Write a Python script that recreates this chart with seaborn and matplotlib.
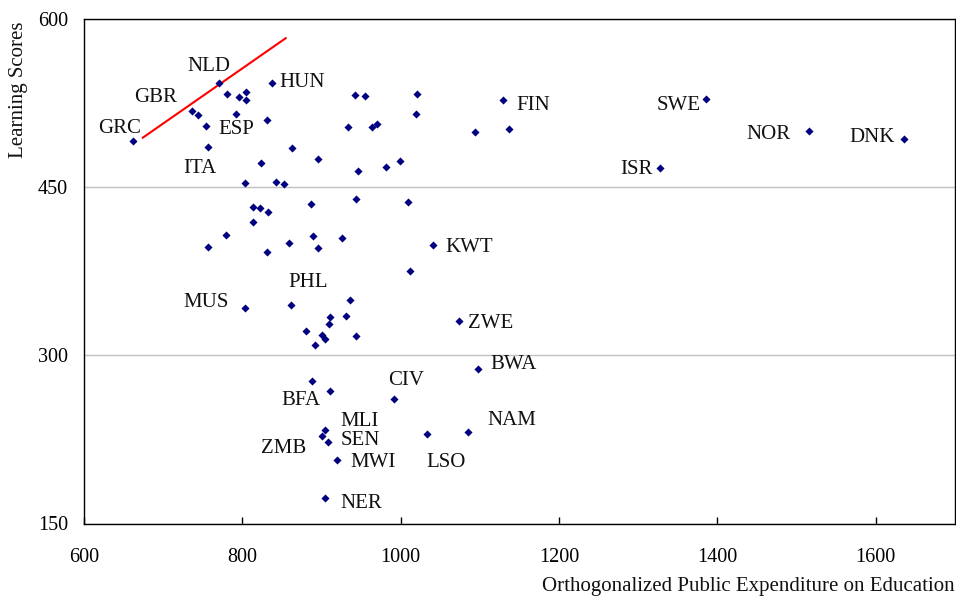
import matplotlib
matplotlib.use("Agg")
import matplotlib.pyplot as plt
import seaborn as sns
import pandas as pd

# ---- data ----
country = ["GRC", "NLD", "", "", "", "", "HUN", "GBR", "", "", "ESP", "",
           "", "", "", "", "", "ITA", "", "", "", "", "", "", "", "", "",
           "", "", "", "", "", "", "", "", "", "", "", "", "", "", "KWT",
           "", "MUS", "PHL", "", "", "", "", "", "", "", "", "", "ZWE",
           "BFA", "", "CIV", "BWA", "MLI", "ZMB", "SEN", "MWI", "LSO", "NAM",
           "NER", "", "", "", "FIN", "", "SWE", "NOR", "DNK", "ISR"]
expenditure = [662, 770, 780, 796, 805, 805, 838, 737, 744, 792, 754, 831,
               942, 955, 933, 964, 970, 756, 863, 824, 896, 946, 803, 843,
               853, 944, 813, 822, 833, 887, 982, 999, 1009, 813, 779, 756,
               831, 859, 889, 896, 926, 1041, 1012, 803, 861, 936, 931, 911,
               909, 880, 901, 904, 943, 892, 1073, 888, 911, 991, 1098, 904,
               901, 908, 920, 1033, 1085, 904, 1020, 1019, 1094, 1129, 1137,
               1386, 1515, 1635, 1328]
scores = [491, 543, 533, 530, 535, 528, 543, 518, 514, 515, 505, 510,
          532, 531, 504, 504, 506, 486, 485, 472, 475, 464, 454, 455,
          453, 439, 432, 431, 428, 435, 468, 473, 437, 419, 407, 397,
          392, 400, 406, 396, 405, 398, 375, 342, 345, 349, 335, 334,
          328, 322, 318, 315, 317, 309, 331, 277, 268, 261, 288, 233,
          228, 223, 207, 230, 232, 173, 533, 515, 499, 528, 502,
          529, 500, 493, 467]

# fitted line endpoints
fit_x = [674, 855]
fit_y = [494, 583]

x_ticks = [600, 800, 1000, 1200, 1400, 1600]
y_ticks = [150, 300, 450, 600]

# label offsets in pixels (dx, dy) from the point -- layout only
label_offsets = {
    "GRC": (-14, 13), "NLD": (-10, 16), "GBR": (-37, 13), "ESP": (30, -4),
    "ITA": (-8, -22), "HUN": (30, 0), "FIN": (30, -6), "SWE": (-28, -7),
    "NOR": (-40, -3), "DNK": (-31, 1), "ISR": (-24, -1), "KWT": (36, -2),
    "MUS": (-39, 6), "PHL": (17, 22), "ZWE": (32, -3), "BWA": (35, 4),
    "CIV": (13, 19), "BFA": (-11, -19), "MLI": (35, 9), "SEN": (32, 1),
    "ZMB": (-39, -12), "MWI": (36, -3), "LSO": (19, -29), "NAM": (44, 11),
    "NER": (37, -6),
}

df = pd.DataFrame({"country": country, "x": expenditure, "y": scores})
fit_df = pd.DataFrame({"x": fit_x, "y": fit_y})

sns.set_style("white")
plt.rcParams["font.family"] = ["Liberation Serif", "DejaVu Serif"]

fig = plt.figure(figsize=(9.56, 5.96), dpi=100)
ax = fig.add_axes([84 / 956, 1 - 523.5 / 596, (955 - 84) / 956, (523.5 - 19) / 596])

sns.lineplot(data=fit_df, x="x", y="y", color="#ff0000", linewidth=1.5, ax=ax, zorder=3)
sns.scatterplot(data=df, x="x", y="y", marker="D", s=17, color="#000080",
                linewidth=0, ax=ax, zorder=4)

for c, xv, yv in zip(country, expenditure, scores):
    if c:
        dx, dy = label_offsets[c]
        ax.annotate(c, (xv, yv), xytext=(dx, dy), textcoords="offset pixels",
                    ha="center", va="center", fontsize=15, color="#111111")

ax.set_xlim(600, 1700)
ax.set_ylim(150, 600)
ax.set_xticks(x_ticks)
ax.set_yticks(y_ticks)
ax.yaxis.grid(True, color="#c0c0c0", linewidth=1.0)
ax.xaxis.grid(False)
ax.set_axisbelow(True)

for sp in ax.spines.values():
    sp.set_visible(True)
    sp.set_color("black")
    sp.set_linewidth(1.0)

ax.tick_params(axis="x", direction="in", length=5, width=1, pad=18,
               labelsize=14.5, colors="black", bottom=True)
ax.tick_params(axis="y", length=0, pad=11.5, labelsize=14.5, colors="black")

ax.set_xlabel("Orthogonalized Public Expenditure on Education", fontsize=15,
              loc="right", color="#111111", va="center")
ax.xaxis.set_label_coords(1.0, (523.5 - 587) / 504.5)
ax.set_ylabel("Learning Scores", fontsize=15, loc="top", color="#111111",
              va="center")
ax.yaxis.set_label_coords((18 - 84) / 871, 0.995)

fig.savefig("out.png", dpi=100)
